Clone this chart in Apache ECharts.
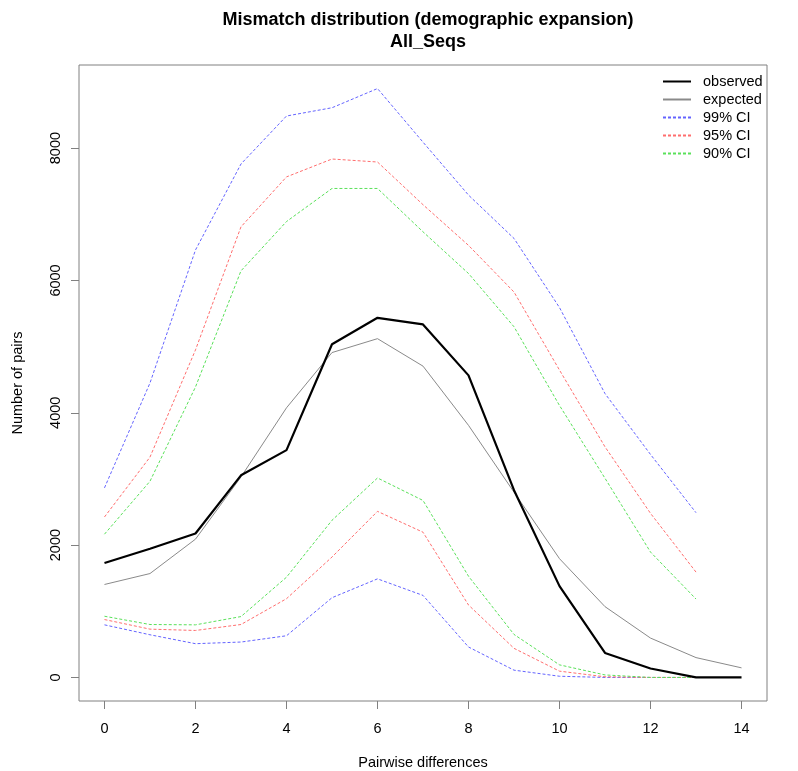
<!DOCTYPE html>
<html>
<head>
<meta charset="utf-8">
<script src="https://cdn.jsdelivr.net/npm/echarts@6/dist/echarts.min.js"></script>
<style>
html,body{margin:0;padding:0;background:#fff;}
#chart{width:798px;height:771px;}
</style>
</head>
<body>
<div id="chart"></div>
<script>
var diffs = [0,1,2,3,4,5,6,7,8,9,10,11,12,13,14];
var observed = [1730,1945,2175,3055,3435,5035,5435,5335,4565,2830,1380,370,135,0,0];
var expected = [1405,1570,2090,3030,4075,4910,5120,4705,3810,2800,1795,1070,595,300,145];
var ci99Upper = [2865,4450,6460,7760,8485,8610,8900,8090,7290,6635,5590,4290,3370,2490];
var ci95Upper = [2425,3330,4950,6810,7565,7835,7790,7145,6530,5825,4645,3485,2480,1592];
var ci90Upper = [2165,2965,4390,6145,6890,7390,7390,6735,6105,5300,4110,3010,1895,1185];
var ci99Lower = [795,645,510,535,630,1205,1490,1240,460,110,18,0,0,0];
var ci95Lower = [875,730,710,800,1190,1820,2510,2195,1095,440,95,10,0,0];
var ci90Lower = [925,800,795,920,1515,2375,3015,2675,1530,650,190,38,0,0];
var xTicks = [0,2,4,6,8,10,12,14];
var yTicks = [0,2000,4000,6000,8000];

function pairs(vals){ return vals.map(function(v,i){ return [diffs[i], v]; }); }

var allVals = [].concat(observed, expected, ci99Upper, ci95Upper, ci90Upper, ci99Lower, ci95Lower, ci90Lower);
var yMinD = Math.min.apply(null, allVals), yMaxD = Math.max.apply(null, allVals);
var yPad = (yMaxD - yMinD) * 0.04;
var xMinD = diffs[0], xMaxD = diffs[diffs.length-1];
var xPad = (xMaxD - xMinD) * 0.04;

var FONT = 'Liberation Sans, Arial, sans-serif';
var AXIS_COL = '#808080';
var BLUE = 'rgb(100,100,255)', RED = 'rgb(255,110,110)', GREEN = 'rgb(90,225,90)';

function dashed(name, vals, color){
  return {name:name, type:'line', data:pairs(vals), showSymbol:false, symbol:'none',
    lineStyle:{color:color, width:1, type:[3,2]}, itemStyle:{color:color}, silent:true, animation:false, z:2};
}

var chart = echarts.init(document.getElementById('chart'), null, {renderer:'canvas'});
chart.setOption({
  backgroundColor:'#fff',
  animation:false,
  title:{
    text:'Mismatch distribution (demographic expansion)\nAll_Seqs',
    left:423, top:4, textAlign:'center',
    textStyle:{fontFamily:FONT, fontSize:18, fontWeight:'bold', color:'#000', lineHeight:22}
  },
  legend:{
    orient:'vertical', left:662, top:74, padding:0, itemWidth:28, itemHeight:14, itemGap:3,
    itemStyle:{opacity:0},
    textStyle:{fontFamily:FONT, fontSize:14.5, color:'#000', padding:[0,0,0,7]},
    data:['observed','expected','99% CI','95% CI','90% CI'],
    selectedMode:false
  },
  grid:{left:79, right:31, top:65, bottom:70, show:true, borderColor:AXIS_COL, borderWidth:1,
    backgroundColor:'transparent', containLabel:false, outerBoundsMode:'none'},
  xAxis:{
    type:'value', min:xMinD - xPad, max:xMaxD + xPad,
    name:'Pairwise differences', nameLocation:'middle', nameGap:54,
    nameTextStyle:{fontFamily:FONT, fontSize:14.5, color:'#000'},
    axisLine:{show:false, onZero:false},
    axisTick:{show:true, inside:false, length:8, lineStyle:{color:AXIS_COL}, customValues:xTicks},
    axisLabel:{fontFamily:FONT, fontSize:14.5, color:'#000', margin:20, customValues:xTicks},
    splitLine:{show:false}
  },
  yAxis:{
    type:'value', min:yMinD - yPad, max:yMaxD + yPad,
    name:'Number of pairs', nameLocation:'middle', nameGap:54, nameRotate:90,
    nameTextStyle:{fontFamily:FONT, fontSize:14.5, color:'#000'},
    axisLine:{show:false, onZero:false},
    axisTick:{show:true, inside:false, length:8, lineStyle:{color:AXIS_COL}, customValues:yTicks},
    axisLabel:{fontFamily:FONT, fontSize:14.5, color:'#000', margin:16, rotate:90, customValues:yTicks,
      formatter:function(v){ return String(v); }},
    splitLine:{show:false}
  },
  series:[
    {name:'observed', type:'line', data:pairs(observed), showSymbol:false, symbol:'none',
      lineStyle:{color:'#000', width:2.2}, itemStyle:{color:'#000'}, z:4},
    {name:'expected', type:'line', data:pairs(expected), showSymbol:false, symbol:'none',
      lineStyle:{color:'#8a8a8a', width:1}, itemStyle:{color:'#8a8a8a'}, z:3},
    dashed('99% CI', ci99Upper, BLUE),
    dashed('99% CI', ci99Lower, BLUE),
    dashed('95% CI', ci95Upper, RED),
    dashed('95% CI', ci95Lower, RED),
    dashed('90% CI', ci90Upper, GREEN),
    dashed('90% CI', ci90Lower, GREEN)
  ]
});
</script>
</body>
</html>
